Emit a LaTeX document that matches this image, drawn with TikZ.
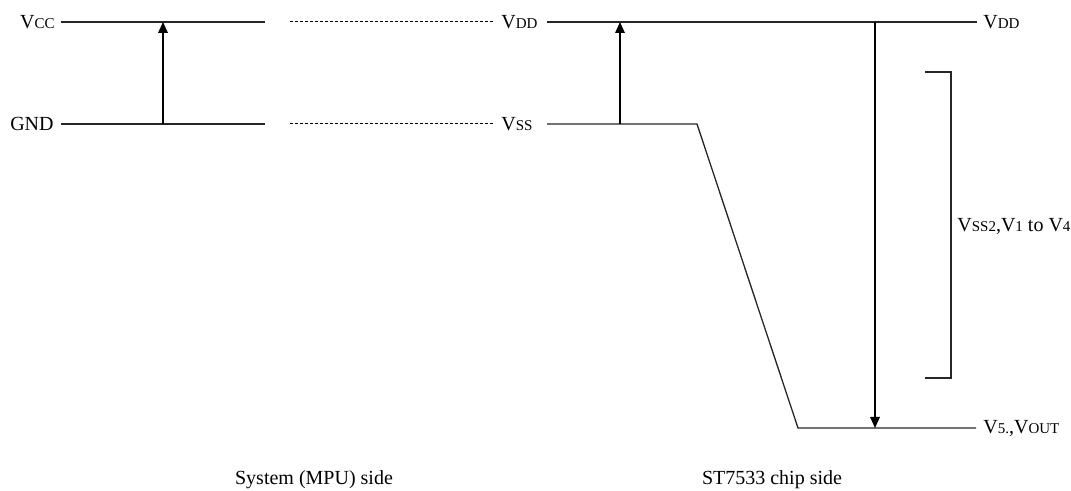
\documentclass[tikz,border=0pt]{standalone}
\usepackage{fontspec}
\setmainfont{Liberation Serif}
\usetikzlibrary{arrows.meta}
\newcommand{\lo}[1]{{\fontsize{7.5}{9}\selectfont #1}}

\begin{document}
\begin{tikzpicture}[x=0.5pt, y=-0.5pt,
  lbl/.style={font=\fontsize{10}{12}\selectfont, inner sep=0pt},
  rail/.style={line width=0.65pt, draw=black!85},
  dl/.style={line width=0.5pt, dash pattern=on 1.5pt off 1pt},
  arr/.style={line width=0.65pt, -{Triangle[length=5.5pt,width=4.8pt]}},
]
\useasboundingbox (0,0) rectangle (1071,491);

\node[lbl, anchor=east] (vcc) at (55,22) {V\lo{CC}};
\node[lbl, anchor=east] (gnd) at (54,124) {GND};
\node[lbl, anchor=west] (vddL) at (501,22) {V\lo{DD}};
\node[lbl, anchor=west] (vssL) at (501,124) {V\lo{SS}};
\node[lbl, anchor=west] (vddR) at (983,22) {V\lo{DD}};
\node[lbl, anchor=west] (v5) at (983,428) {V\lo{5.},V\lo{OUT}};
\node[lbl, anchor=west] (vlcd) at (957,226) {V\lo{SS2},V\lo{1} to V\lo{4}};
\node[lbl] (sys) at (314,480) {System (MPU) side};
\node[lbl] (chip) at (772,480) {ST7533 chip side};

\coordinate (ccA) at (61,22);   \coordinate (ccB) at (265,22);
\coordinate (gnA) at (61,124);  \coordinate (gnB) at (265,124);
\coordinate (dA) at (290,22);   \coordinate (dB) at (290,124);
\coordinate (ddA) at (547,22);  \coordinate (ddB) at (977,22);
\coordinate (ssA) at (547,124); \coordinate (ssB) at (697,124);
\coordinate (v5A) at (798,428); \coordinate (v5B) at (976,428);
\coordinate (m1) at (163,22);   \coordinate (m0) at (163,124);
\coordinate (c1) at (620,22);   \coordinate (c0) at (620,124);
\coordinate (d1) at (875,22);   \coordinate (d0) at (875,428);

\draw[rail] (ccA) -- (ccB);
\draw[rail] (gnA) -- (gnB);
\draw[dl] (dA) -- ([xshift=-3pt]vddL.west);
\draw[dl] (dB) -- ([xshift=-3pt]vssL.west);
\draw[rail] (ddA) -- (ddB);
\draw[rail] (ssA) -- (ssB) -- (v5A) -- (v5B);

\draw[arr] (m0) -- (m1);
\draw[arr] (c0) -- (c1);
\draw[arr] (d1) -- (d0);

\draw[rail] (925,72) -- (951,72) -- (951,378) -- (925,378);

\end{tikzpicture}
\end{document}
